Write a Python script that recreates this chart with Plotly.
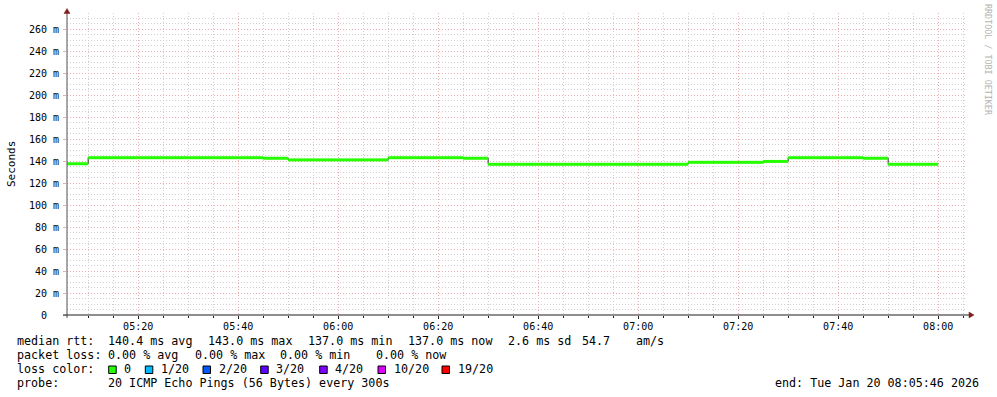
import plotly.graph_objects as go
from datetime import datetime, timedelta

# ---------------- data ----------------
bin_start = ["05:05", "05:10", "05:15", "05:20", "05:25", "05:30", "05:35", "05:40",
             "05:45", "05:50", "05:55", "06:00", "06:05", "06:10", "06:15", "06:20",
             "06:25", "06:30", "06:35", "06:40", "06:45", "06:50", "06:55", "07:00",
             "07:05", "07:10", "07:15", "07:20", "07:25", "07:30", "07:35", "07:40",
             "07:45", "07:50", "07:55"]
median_ms = [137.5, 143.0, 143.0, 143.0, 143.0, 143.0, 143.0, 143.0,
             142.5, 141.0, 141.0, 141.0, 141.0, 143.0, 143.0, 143.0,
             142.5, 137.0, 137.0, 137.0, 137.0, 137.0, 137.0, 137.0,
             137.0, 138.8, 138.8, 138.8, 139.6, 143.0, 143.0, 143.0,
             142.5, 137.0, 137.0]
step_minutes = 5
day = "2026-01-20"
range_start = "2026-01-20 05:05:46"
range_end = "2026-01-20 08:05:46"

y_tick_vals = [0, 20, 40, 60, 80, 100, 120, 140, 160, 180, 200, 220, 240, 260]
y_tick_text = ["0  ", "20 m", "40 m", "60 m", "80 m", "100 m", "120 m", "140 m",
               "160 m", "180 m", "200 m", "220 m", "240 m", "260 m"]

legend_rtt = [("median rtt:", 16), ("140.4 ms avg", 107), ("143.0 ms max", 207),
              ("137.0 ms min", 307), ("137.0 ms now", 407), ("2.6 ms sd", 507),
              ("54.7", 581), ("am/s", 635)]
legend_loss = [("packet loss:", 16), ("0.00 % avg", 107), ("0.00 % max", 194),
               ("0.00 % min", 279), ("0.00 % now", 375)]
loss_labels = ["0", "1/20", "2/20", "3/20", "4/20", "10/20", "19/20"]
loss_colors = ["#26ff00", "#00b8ff", "#0059ff", "#5e00ff", "#7e00ff", "#dd00ff", "#ff0000"]
probe_text = "20 ICMP Echo Pings (56 Bytes) every 300s"
end_text = "end: Tue Jan 20 08:05:46 2026"
y_title = "Seconds"
watermark = "RRDTOOL / TOBI OETIKER"

# ---------------- geometry helpers ----------------
W, H = 997, 397
L, R, T, B = 67, 30, 13, 82
PW, PH = W - L - R, H - T - B


def px(x):
    return (x - L) / PW


def py(y):
    return (H - B - y) / PH


def nb(s):
    return s.replace(" ", "\u00a0")


FONT = "DejaVu Sans Mono"

starts = [datetime.strptime(day + " " + t, "%Y-%m-%d %H:%M") for t in bin_start]
step = timedelta(minutes=step_minutes)

# step line (dark, with verticals)
sx = starts + [starts[-1] + step]
sy = median_ms + [median_ms[-1]]

# green horizontals
gx, gy = [], []
for s, v in zip(starts, median_ms):
    gx += [s, s + step, None]
    gy += [v, v, None]

fig = go.Figure()
fig.add_trace(go.Scatter(x=sx, y=sy, mode="lines", line=dict(shape="hv", color="#303030", width=1),
                         hoverinfo="skip", showlegend=False))
fig.add_trace(go.Scatter(x=gx, y=gy, mode="lines", line=dict(color="#26ff00", width=3),
                         hoverinfo="skip", showlegend=False, connectgaps=False))

minor_grid = "#cfcfcf"
major_grid = "#e8b0b0"

fig.update_layout(
    width=W, height=H,
    margin=dict(l=L, r=R, t=T, b=B, pad=0),
    paper_bgcolor="white", plot_bgcolor="white",
    font=dict(family=FONT, size=10, color="black"),
    showlegend=False,
    xaxis=dict(
        type="date", range=[range_start, range_end],
        tick0=day + " 05:00", dtick=20 * 60 * 1000, tickformat="%H:%M",
        showgrid=True, gridcolor=major_grid, griddash="1px,2px", gridwidth=1,
        ticks="outside", ticklen=3, tickcolor="#1f1f1f", tickwidth=1,
        tickfont=dict(family=FONT, size=10, color="black"),
        ticklabelstandoff=-1,
        minor=dict(dtick=5 * 60 * 1000, tick0=day + " 05:00", showgrid=True, gridcolor=minor_grid,
                   griddash="1px,2px", gridwidth=1, ticks="outside", ticklen=2, tickcolor="#1f1f1f"),
        showline=False, zeroline=False, fixedrange=True,
    ),
    yaxis=dict(
        range=[0, PH / 1.1],
        tickmode="array", tickvals=y_tick_vals, ticktext=[nb(t) for t in y_tick_text],
        showgrid=True, gridcolor=major_grid, griddash="1px,2px", gridwidth=1,
        ticks="outside", ticklen=3, tickcolor=major_grid,
        tickfont=dict(family=FONT, size=10, color="black"),
        ticklabelstandoff=2,
        minor=dict(dtick=5, tick0=0, showgrid=True, gridcolor=minor_grid, griddash="1px,2px", gridwidth=1),
        showline=False, zeroline=False, fixedrange=True,
    ),
)

shapes = []
# y axis line
shapes.append(dict(type="line", xref="paper", yref="paper", x0=px(67), x1=px(67), y0=py(318), y1=py(11),
                   line=dict(color="#505050", width=1)))
# x axis line
shapes.append(dict(type="line", xref="paper", yref="paper", x0=px(63), x1=px(970), y0=py(315), y1=py(315),
                   line=dict(color="#1f1f1f", width=1)))
# arrows
shapes.append(dict(type="path", xref="paper", yref="paper",
                   path=f"M {px(64)} {py(13.5)} L {px(70)} {py(13.5)} L {px(67)} {py(8.5)} Z",
                   fillcolor="#801f1f", line=dict(color="#801f1f", width=0.5)))
shapes.append(dict(type="path", xref="paper", yref="paper",
                   path=f"M {px(969)} {py(312)} L {px(969)} {py(318)} L {px(974)} {py(315)} Z",
                   fillcolor="#801f1f", line=dict(color="#801f1f", width=0.5)))

annotations = []


def txt(s, x, y, anchor="left", size=11.7, color="black", angle=0):
    annotations.append(dict(text=nb(s), xref="paper", yref="paper", x=px(x), y=py(y),
                            xanchor=anchor, yanchor="middle", showarrow=False, textangle=angle,
                            font=dict(family=FONT, size=size, color=color)))


ROW1, ROW2, ROW3, ROW4 = 341, 355, 369, 383
for s, x in legend_rtt:
    txt(s, x - 1, ROW1)
for s, x in legend_loss:
    txt(s, x - 1, ROW2)
txt("loss color:", 15, ROW3)
square_x = [108.7, 145.3, 203, 260.7, 319.7, 378, 442]
for lab, col, sxp in zip(loss_labels, loss_colors, square_x):
    shapes.append(dict(type="rect", xref="paper", yref="paper", x0=px(sxp), x1=px(sxp + 7.5),
                       y0=py(366), y1=py(373.5), fillcolor=col, line=dict(color="black", width=1)))
    txt(lab, sxp + 13.5, ROW3)
txt("probe:", 15, ROW4)
txt(probe_text, 106, ROW4)
txt(end_text, 981, ROW4, anchor="right")

# y title
txt(y_title, 11, 164, anchor="center", size=11, angle=-90)
# watermark
annotations.append(dict(text=nb(watermark), xref="paper", yref="paper", x=px(988), y=py(60),
                        xanchor="center", yanchor="middle", showarrow=False, textangle=90,
                        font=dict(family=FONT, size=8.4, color="#b4b4b4")))

fig.update_layout(shapes=shapes, annotations=annotations)
fig.write_html("out.html", config={"displayModeBar": False})
